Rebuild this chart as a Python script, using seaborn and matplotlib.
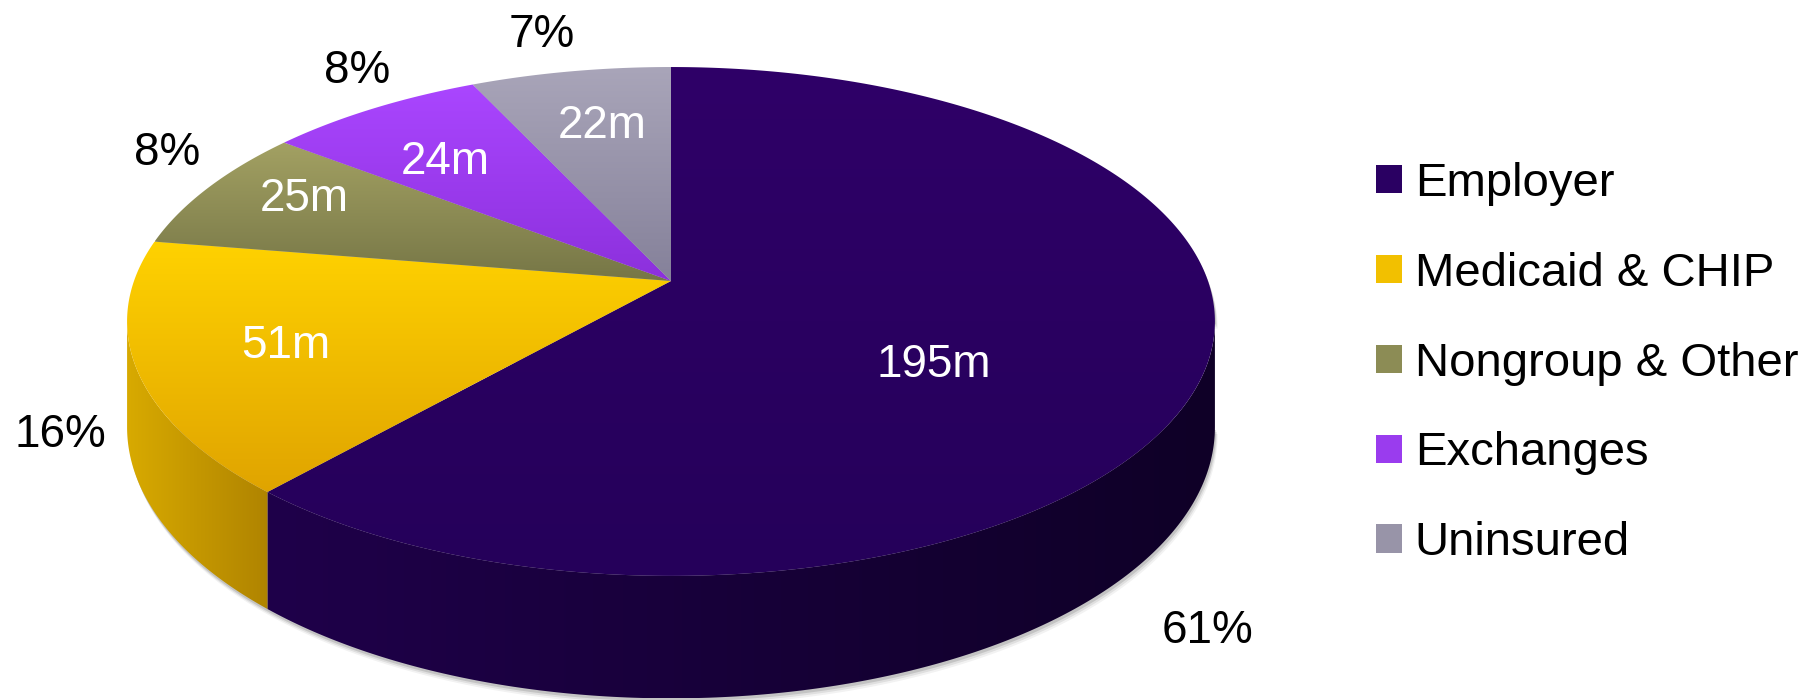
import numpy as np
import matplotlib
matplotlib.use("Agg")
import matplotlib.pyplot as plt
import seaborn as sns
from matplotlib.patches import Polygon, Patch
from matplotlib.colors import to_rgb

# ---------------- data ----------------
categories = ["Employer", "Medicaid & CHIP", "Nongroup & Other", "Exchanges", "Uninsured"]
values = [195, 51, 25, 24, 22]
value_labels = ["195m", "51m", "25m", "24m", "22m"]
pct_labels = ["61%", "16%", "8%", "8%", "7%"]

# ---------------- style ----------------
top_colors = [("#2F0068", "#25005A"), ("#FFD200", "#E0A400"), ("#A3A163", "#767646"),
              ("#AA46FF", "#8C30DC"), ("#A9A5B9", "#85819A")]
side_colors = [("#1F004A", "#0F0027"), ("#D8AA00", "#B08400"), ("#7A7A48", "#5E5E38"),
               ("#8A30D0", "#6A20A8"), ("#86829A", "#6A667C")]
legend_colors = ["#2A0062", "#F2C000", "#8C8C55", "#9A3CEE", "#9894A8"]

sns.set_theme(style="white")
plt.rcParams["font.family"] = ["Liberation Sans", "DejaVu Sans"]
plt.rcParams["text.color"] = "black"

W, H = 1812, 700
fig = plt.figure(figsize=(W / 100, H / 100), dpi=100)
fig.patch.set_facecolor("white")
ax = fig.add_axes([0, 0, 1, 1])

# perspective of the pie (layout)
U0, V0 = 671.0, 281.0
A, B, K = 537.0, 248.0, 0.159
DEPTH = 103.0


def project(theta_deg, r=1.0, drop=0.0):
    t = np.radians(theta_deg)
    x = r * np.cos(t)
    y = r * np.sin(t)
    s = 1.0 / (1.0 + K * y)
    return U0 + A * x * s, V0 - B * y * s + drop * s


def grad_fill(xy, c1, c2, vertical=True, z=2):
    poly = Polygon(xy, closed=True, facecolor="none", edgecolor="none")
    ax.add_patch(poly)
    xmin, ymin = xy.min(axis=0)
    xmax, ymax = xy.max(axis=0)
    t = np.linspace(0, 1, 256)[:, None]
    cols = (1 - t) * np.array(to_rgb(c1)) + t * np.array(to_rgb(c2))
    img = cols[:, None, :] if vertical else cols[None, :, :]
    im = ax.imshow(img, extent=(xmin, xmax, ymax, ymin), origin="upper",
                   aspect="auto", interpolation="bilinear", zorder=z)
    im.set_clip_path(poly)


total = float(sum(values))
cum = np.concatenate([[0.0], np.cumsum(values)])
theta_start = 90.0 - 360.0 * cum[:-1] / total
theta_end = 90.0 - 360.0 * cum[1:] / total

sil = np.degrees(np.arcsin(-K))          # right silhouette (approx -9.15)
vis_lo, vis_hi = -180.0 - sil, sil       # visible side range

# soft shadow under the pie
th_back = np.linspace(vis_hi, vis_lo + 360.0, 300)
th_front = np.linspace(vis_lo, vis_hi, 300)
ub, vb = project(th_back)
uf, vf = project(th_front, drop=DEPTH)
sil_xy = np.column_stack([np.concatenate([ub, uf[::-1]]), np.concatenate([vb, vf[::-1]])])
for i, (off, alpha) in enumerate([(7, 0.05), (5, 0.08), (3, 0.12)]):
    ax.add_patch(Polygon(sil_xy + np.array([off * 0.4, off]), closed=True,
                         facecolor="#000000", edgecolor="none", alpha=alpha, zorder=0.5 + i * 0.1))

# sides
for i in range(len(values)):
    a = min(theta_start[i], vis_hi)
    b = max(theta_end[i], vis_lo)
    if a <= b:
        continue
    th = np.linspace(a, b, 200)
    ut, vt = project(th)
    ubt, vbt = project(th, drop=DEPTH)
    xy = np.column_stack([np.concatenate([ut, ubt[::-1]]), np.concatenate([vt, vbt[::-1]])])
    grad_fill(xy, side_colors[i][0], side_colors[i][1], vertical=False, z=1)

# tops
for i in range(len(values)):
    th = np.linspace(theta_start[i], theta_end[i], 300)
    ut, vt = project(th)
    xy = np.column_stack([np.concatenate([[U0], ut]), np.concatenate([[V0], vt])])
    grad_fill(xy, top_colors[i][0], top_colors[i][1], vertical=True, z=3)

# labels (layout positions, baselines)
inner_pos = [(934, 377), (286, 358), (304, 211), (445, 174), (602, 138)]
outer_pos = [(1208, 643), (60, 447), (167, 165), (357, 83), (542, 47)]
for lab, (x, y) in zip(value_labels, inner_pos):
    ax.text(x, y, lab, color="white", fontsize=33, ha="center", va="baseline", zorder=5)
for lab, (x, y) in zip(pct_labels, outer_pos):
    ax.text(x, y, lab, color="black", fontsize=33, ha="center", va="baseline", zorder=5)

handles = [Patch(facecolor=c, edgecolor="none") for c in legend_colors]
fig.legend(handles, categories, loc="upper left", bbox_to_anchor=(1376 / W, 1 - 162 / H),
           frameon=False, fontsize=34, handlelength=0.54, handleheight=0.54,
           handletextpad=0.28, labelspacing=0.97, borderpad=0, borderaxespad=0,
           labelcolor="black")

ax.set_xlim(0, W)
ax.set_ylim(H, 0)
ax.axis("off")
fig.savefig("out.png", dpi=100, facecolor="white")
